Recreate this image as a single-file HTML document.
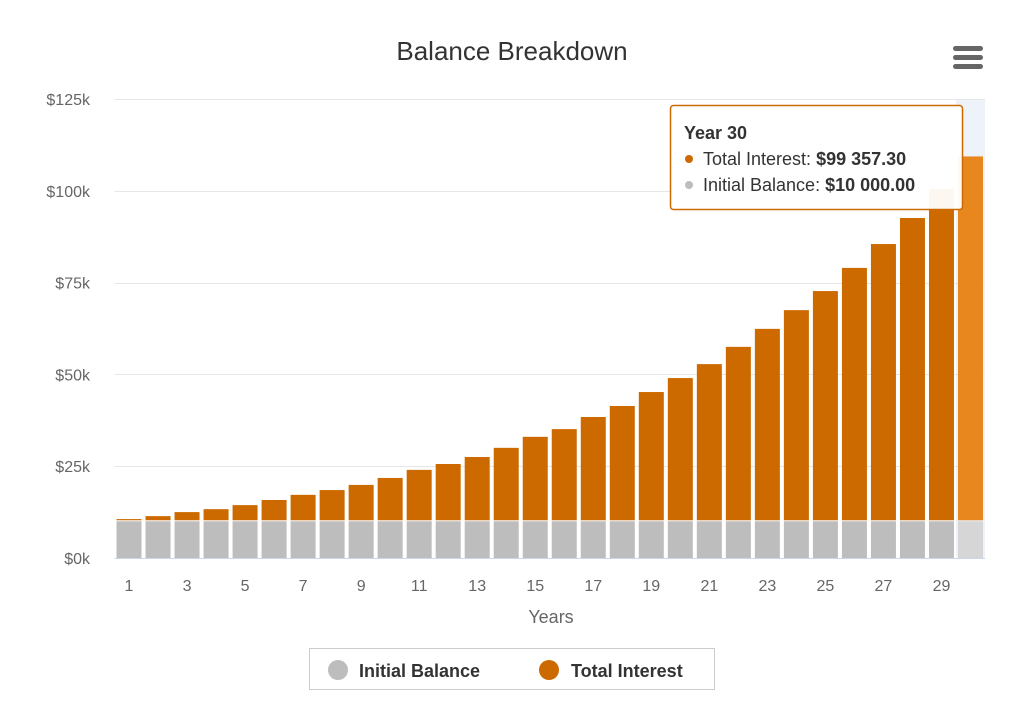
<!DOCTYPE html>
<html><head><meta charset="utf-8"><style>
body{margin:0;background:#fff;font-family:"Liberation Sans",Arial,sans-serif}
svg text{font-family:"Liberation Sans",Arial,sans-serif}
</style></head><body>
<svg id="c" width="1024" height="715" viewBox="0 0 1024 715">
<text x="512" y="60" text-anchor="middle" font-size="26" fill="#333">Balance Breakdown</text>
<g>
<rect x="953" y="46" width="30" height="5" rx="2.5" fill="#666"/>
<rect x="953" y="55" width="30" height="5" rx="2.5" fill="#666"/>
<rect x="953" y="64" width="30" height="5" rx="2.5" fill="#666"/>
</g>
<g id="grid"></g>
<g id="bars"></g>
<g id="axes"></g>
<text x="551" y="623" text-anchor="middle" font-size="18" fill="#666">Years</text>
<g>
<rect x="309.5" y="648.5" width="405" height="41" fill="#fff" stroke="#ccc"/>
<g>
<circle cx="338" cy="670" r="10" fill="#bdbdbd"/>
<text x="359" y="677" font-size="18" font-weight="bold" fill="#333">Initial Balance</text></g>
<g>
<circle cx="549" cy="670" r="10" fill="#cc6a00"/>
<text x="571" y="677" font-size="18" font-weight="bold" fill="#333">Total Interest</text></g>
</g>
<g>
<rect x="670.5" y="105.5" width="292" height="104" rx="3" fill="#fff" fill-opacity="0.95" stroke="#cc6a00" stroke-width="1.5"/>
<text x="684" y="139" font-size="18" font-weight="bold" fill="#333">Year 30</text>
<circle cx="689" cy="159" r="4" fill="#cc6a00"/>
<text x="703" y="165" font-size="18" fill="#333">Total Interest: <tspan font-weight="bold">$99 357.30</tspan></text>
<circle cx="689" cy="185" r="4" fill="#bdbdbd"/>
<text x="703" y="191" font-size="18" fill="#333">Initial Balance: <tspan font-weight="bold">$10 000.00</tspan></text>
</g>
</svg>
<script>
const years=[1,2,3,4,5,6,7,8,9,10,11,12,13,14,15,16,17,18,19,20,21,22,23,24,25,26,27,28,29,30];
const initialBalance=[10000,10000,10000,10000,10000,10000,10000,10000,10000,10000,10000,10000,10000,10000,10000,10000,10000,10000,10000,10000,10000,10000,10000,10000,10000,10000,10000,10000,10000,10000];
const totalInterest=[600,1400,2500,3300,4400,5800,7200,8500,9900,11800,14000,15600,17500,20000,23000,25100,28400,31400,35200,39000,42800,47500,52400,57500,62700,69000,75500,82600,90500,99357.3];
const yTicks=[0,25000,50000,75000,100000,125000];
const yTickLabels=["$0k","$25k","$50k","$75k","$100k","$125k"];
const NS="http://www.w3.org/2000/svg";
const x0=114.5,x1=985,yb=558,yt=99,yMax=125000;
const step=(x1-x0)/years.length;
const xc=i=>x0+step*(i+0.5);
const y=v=>yb-v/yMax*(yb-yt);
function mk(t,a,p){const e=document.createElementNS(NS,t);for(const k in a)e.setAttribute(k,a[k]);p.appendChild(e);return e;}
const grid=document.getElementById('grid'),bars=document.getElementById('bars'),axes=document.getElementById('axes');
const hb=mk('rect',{x:x0+step*29,y:yt,width:step,height:yb-yt,fill:'#eef3fa'},grid);


yTicks.forEach((t,i)=>{
 const l=mk('line',{x1:x0,x2:x1,y1:Math.round(y(t))+.5,y2:Math.round(y(t))+.5,stroke:i==0?'#ccd6eb':'#e6e6e6'},grid);
 
 
 const tx=mk('text',{x:90,y:y(t)+6,'text-anchor':'end','font-size':16,fill:'#666'},axes);
 tx.textContent=yTickLabels[i];
 
 
});
const bw=25;
years.forEach((yr,i)=>{
 const hov=i==years.length-1;
 const g=mk('rect',{x:xc(i)-bw/2,y:y(initialBalance[i]),width:bw,height:yb-y(initialBalance[i]),fill:hov?'#d6d6d6':'#bdbdbd'},bars);
 
 
 const tot=initialBalance[i]+totalInterest[i];
 const o=mk('rect',{x:xc(i)-bw/2,y:y(tot),width:bw,height:y(initialBalance[i])-y(tot)-1,fill:hov?'#e8871e':'#cc6a00'},bars);
 
 
 if(yr%2==1){
  const tx=mk('text',{x:xc(i),y:591,'text-anchor':'middle','font-size':16,fill:'#666'},axes);
  tx.textContent=yr;
  
  
 }
});
</script>
</body></html>
